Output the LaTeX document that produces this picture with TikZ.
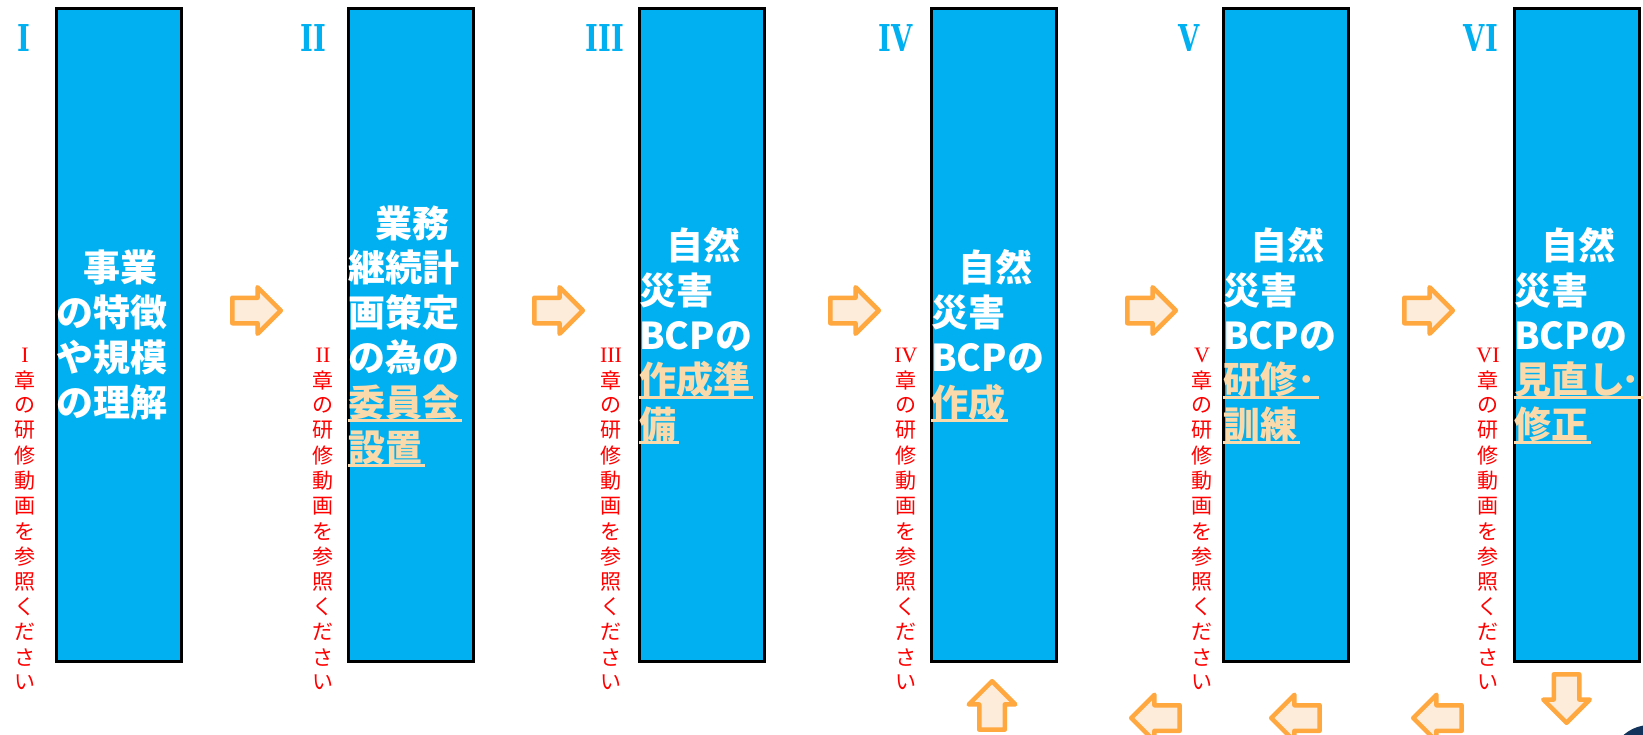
\documentclass[tikz,border=0pt]{standalone}
\usepackage{fontspec}
\setmainfont{Liberation Serif}
\newfontfamily\jp{Noto Sans CJK JP}
\newfontfamily\slab{DejaVu Serif}
\usetikzlibrary{shapes.arrows}
\definecolor{boxblue}{RGB}{0,176,240}
\definecolor{wheat}{RGB}{250,218,170}
\definecolor{aorange}{RGB}{255,168,64}
\definecolor{afill}{RGB}{253,236,218}
\definecolor{navy}{RGB}{18,52,92}
\newcommand\redcol[3]{%
  \node[rn] (#3-0) at (#1,355) {#2};
  \foreach \c [count=\i] in {章,の,研,修,動,画,を,参,照,く,だ,さ,い}
    \node[rc] (#3-\i) at (#1,355+\i*25.2) {\c};
}
\begin{document}
\begin{tikzpicture}[x=1pt,y=-1pt,
  stepbox/.style={draw=black, line width=2.8pt, fill=boxblue, minimum width=125.5pt, minimum height=653pt, inner sep=0pt},
  bt/.style={anchor=base west, inner sep=0pt, text=white, font=\jp\bfseries\fontsize{37}{44}\selectfont},
  ut/.style={bt, text=wheat},
  ul/.style={draw=wheat, line width=3pt},
  num/.style={text=boxblue, font=\slab\bfseries\fontsize{37}{37}\selectfont, xscale=0.74, inner sep=0pt},
  rc/.style={text=red, font=\jp\fontsize{21}{21}\selectfont, inner sep=0pt},
  rn/.style={text=red, font=\fontsize{22}{22}\selectfont, inner sep=0pt},
  blockarrow/.style={single arrow, draw=aorange, fill=afill, line width=4.5pt, line join=round,
    inner xsep=0pt, inner ysep=10.5pt, minimum height=48.5pt,
    single arrow head extend=10.5pt, single arrow tip angle=90, anchor=tip}
]
\useasboundingbox (0,0) rectangle (1643,734);
\clip (0,0) rectangle (1643,734);

% boxes
\node[stepbox] (b1) at (119,335) {};
\node[stepbox] (b2) at (411,335) {};
\node[stepbox] (b3) at (702,335) {};
\node[stepbox] (b4) at (994,335) {};
\node[stepbox] (b5) at (1286,335) {};
\node[stepbox] (b6) at (1577,335) {};

% numerals
\node[num] (n1) at (24,38) {I};
\node[num] (n2) at (313,38) {II};
\node[num] (n3) at (605,38) {III};
\node[num] (n4) at (896,38) {IV};
\node[num] (n5) at (1189,38) {V};
\node[num] (n6) at (1481,38) {VI};

% box 1
\node[bt] (t11) at (83,281.8) {事業};
\node[bt] (t12) at (56,326.6) {の特徴};
\node[bt] (t13) at (56,371.4) {や規模};
\node[bt] (t14) at (56,416.2) {の理解};

% box 2
\node[bt] (t21) at (375,237) {業務};
\node[bt] (t22) at (348,281.8) {継続計};
\node[bt] (t23) at (348,326.6) {画策定};
\node[bt] (t24) at (348,371.4) {の為の};
\node[ut] (t25) at (348,416.2) {委員会};
\node[ut] (t26) at (348,461) {設置};

% box 3
\node[bt] (t31) at (666,259.4) {自然};
\node[bt] (t32) at (639,304.2) {災害};
\node[bt] (t33) at (639,349) {BCPの};
\node[ut] (t34) at (639,393.8) {作成準};
\node[ut] (t35) at (639,438.6) {備};

% box 4
\node[bt] (t41) at (958,281.8) {自然};
\node[bt] (t42) at (931,326.6) {災害};
\node[bt] (t43) at (931,371.4) {BCPの};
\node[ut] (t44) at (931,416.2) {作成};

% box 5
\node[bt] (t51) at (1250,259.4) {自然};
\node[bt] (t52) at (1223,304.2) {災害};
\node[bt] (t53) at (1223,349) {BCPの};
\node[ut] (t54) at (1223,393.8) {研修･};
\node[ut] (t55) at (1223,438.6) {訓練};

% box 6
\node[bt] (t61) at (1541,259.4) {自然};
\node[bt] (t62) at (1514,304.2) {災害};
\node[bt] (t63) at (1514,349) {BCPの};
\node[ut] (t64) at (1514,393.8) {見直し\kern-4pt･};
\node[ut] (t65) at (1514,438.6) {修正};

% underlines
\foreach \n in {t25,t26,t34,t35,t44,t54,t55,t64,t65}
  \draw[ul] ([yshift=-4pt]\n.base west) -- ([yshift=-4pt,xshift=3pt]\n.base east);

% red vertical notes
\redcol{25}{I}{r1}
\redcol{323}{II}{r2}
\redcol{611}{III}{r3}
\redcol{906}{IV}{r4}
\redcol{1202}{V}{r5}
\redcol{1488}{VI}{r6}

% arrows (positioned by their tips)
\node[blockarrow] (a1) at (284,310.5) {};
\node[blockarrow] (a2) at (586,310.5) {};
\node[blockarrow] (a3) at (882,310.5) {};
\node[blockarrow] (a4) at (1179,310.5) {};
\node[blockarrow] (a5) at (1456,310.5) {};
\node[blockarrow, rotate=90] (a6) at (992,678) {};
\node[blockarrow, rotate=180] (a7) at (1128,718) {};
\node[blockarrow, rotate=180] (a8) at (1268,718) {};
\node[blockarrow, rotate=180] (a9) at (1410,718) {};
\node[blockarrow, rotate=-90] (a10) at (1566.5,726) {};

% corner disc
\fill[navy] (1650,765) circle[radius=40];
\end{tikzpicture}
\end{document}
